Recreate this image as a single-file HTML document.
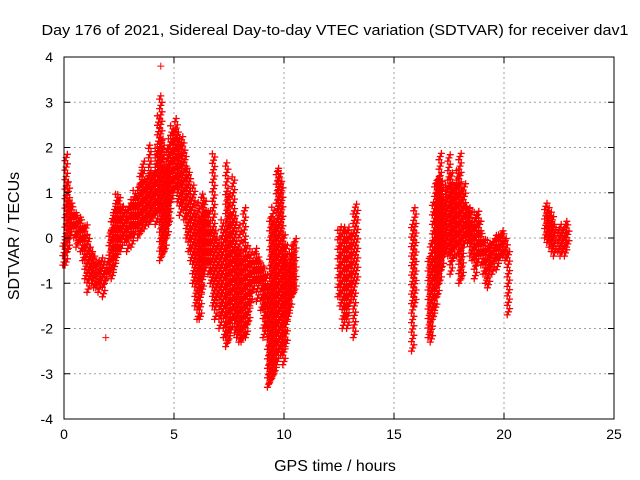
<!DOCTYPE html>
<html><head><meta charset="utf-8"><style>
body{margin:0;background:#fff}
svg{display:block;font-family:"Liberation Sans",sans-serif}
</style></head><body>
<svg id="c" width="640" height="480">
<rect width="640" height="480" fill="#fff"/>
<text x="335" y="35" font-size="15" text-anchor="middle" textLength="587" lengthAdjust="spacingAndGlyphs">Day 176 of 2021, Sidereal Day-to-day VTEC variation (SDTVAR) for receiver dav1</text>
<g id="grid"></g><g id="marks"></g><g id="axes"></g>
<text x="335" y="471" font-size="16" text-anchor="middle">GPS time / hours</text>
<text transform="translate(19,236) rotate(-90)" font-size="16" text-anchor="middle">SDTVAR / TECUs</text>
</svg>
<script>
const xTicks=[0,5,10,15,20,25];
const yTicks=[-4,-3,-2,-1,0,1,2,3,4];
const times=[0.0,0.1,0.2,0.3,0.4,0.5,0.6,0.7,0.8,0.9,1.0,1.1,1.2,1.3,1.4,1.5,1.6,1.7,1.8,1.9,2.0,2.1,2.2,2.3,2.4,2.5,2.6,2.7,2.8,2.9,3.0,3.1,3.2,3.3,3.4,3.5,3.6,3.7,3.8,3.9,4.0,4.1,4.2,4.3,4.4,4.5,4.6,4.7,4.8,4.9,5.0,5.1,5.2,5.3,5.4,5.5,5.6,5.7,5.8,5.9,6.0,6.1,6.2,6.3,6.4,6.5,6.6,6.7,6.8,6.9,7.0,7.1,7.2,7.3,7.4,7.5,7.6,7.7,7.8,7.9,8.0,8.1,8.2,8.3,8.4,8.5,8.6,8.7,8.8,8.9,9.0,9.1,9.2,9.3,9.4,9.5,9.6,9.7,9.8,9.9,10.0,10.1,10.2,10.3,10.4,10.5,
12.5,12.6,12.7,12.8,12.9,13.0,13.1,13.2,13.3,15.85,15.95,
16.6,16.7,16.8,16.9,17.0,17.1,17.2,17.3,17.4,17.5,17.6,17.7,17.8,17.9,18.0,18.1,18.2,18.3,18.4,18.5,18.6,18.7,18.8,18.9,19.0,19.1,19.2,19.3,19.4,19.5,19.6,19.7,19.8,19.9,20.0,20.1,20.2,
21.9,22.0,22.1,22.2,22.3,22.5,22.6,22.7,22.8,22.9];
const lows=[-0.6,-0.6,-0.3,0.0,0.2,0.0,-0.2,-0.1,-0.3,-0.5,-0.9,-1.2,-0.9,-1.0,-1.1,-1.1,-1.2,-1.0,-1.3,-1.0,-0.8,-0.8,-0.9,-0.7,-0.5,-0.3,-0.3,0.0,-0.1,-0.3,0.0,-0.2,0.0,0.2,0.0,0.1,0.3,0.2,0.4,0.3,0.4,0.5,0.3,0.6,-0.5,-0.4,-0.3,0.0,0.3,0.8,1.0,1.1,0.8,0.5,0.7,0.4,0.0,-0.3,-0.5,-1.0,-1.5,-1.8,-1.8,-1.2,-0.8,-0.6,-0.8,-1.0,-1.5,-1.8,-1.3,-2.0,-1.7,-2.2,-2.4,-2.3,-2.1,-1.8,-2.1,-2.2,-2.3,-2.3,-2.2,-2.2,-1.9,-1.5,-1.2,-1.0,-1.4,-1.0,-1.6,-2.2,-2.0,-3.3,-3.2,-3.1,-3.0,-2.8,-2.5,-2.6,-2.8,-2.4,-1.8,-1.6,-1.3,-1.2,
-1.3,-1.5,-2.0,-1.8,-2.0,-1.5,-1.3,-2.2,-1.0,-2.5,-1.5,
-2.2,-2.3,-1.8,-1.6,-1.3,-1.0,-0.7,-0.4,-0.3,-0.4,-0.8,-0.5,-0.2,-0.4,-1.0,-0.9,-0.2,0.0,-0.1,-0.4,-0.5,-0.9,-0.6,-0.4,-0.6,-0.8,-1.0,-1.1,-0.7,-0.8,-0.5,-0.7,-0.5,-0.4,-0.4,-0.5,-1.7,
0.0,-0.1,-0.2,-0.3,-0.4,-0.3,-0.4,-0.3,-0.4,-0.2];
const highs=[0.0,1.9,1.3,0.9,0.7,0.6,0.5,0.5,0.4,0.3,0.3,0.1,-0.2,-0.3,-0.4,-0.5,-0.5,-0.4,-0.5,-0.6,-0.4,0.2,0.5,0.7,1.0,1.0,0.8,0.7,0.6,0.7,0.8,0.9,1.1,0.9,1.2,1.5,1.7,1.3,1.4,2.1,1.5,1.5,2.0,2.7,3.2,2.2,1.6,2.0,2.2,2.5,2.4,2.7,2.4,2.2,2.3,2.0,1.6,1.5,1.0,1.2,0.5,0.8,0.5,1.0,0.9,0.6,0.6,0.3,1.9,0.2,0.0,-0.1,0.4,0.2,1.7,1.0,0.5,1.4,0.5,-0.2,0.3,-0.4,0.7,-0.1,-0.3,-0.2,-0.5,-0.2,-0.3,-0.5,-0.5,-0.6,-0.8,-1.0,0.5,0.7,0.4,1.6,1.5,1.3,0.1,-0.1,-0.5,-0.3,-0.1,0.0,
0.2,0.3,0.3,0.2,0.3,0.2,0.1,0.6,0.8,0.3,0.7,
-0.4,0.0,0.8,1.3,1.4,1.9,1.3,0.9,1.2,1.9,1.5,1.2,1.2,1.5,1.9,1.1,1.2,0.7,0.7,0.7,0.4,0.6,0.6,0.5,0.1,0.0,-0.1,0.0,-0.1,-0.1,0.1,0.1,0.1,0.2,0.1,0.0,-0.3,
0.8,0.7,0.6,0.5,0.3,0.2,0.3,0.2,0.4,0.3];
const outT=[4.4,1.9,10.0];
const outV=[3.8,-2.2,-0.5];
const L=64,R=614,T=57,B=419;
const sx=t=>L+(t-0)/(25-0)*(R-L);
const sy=v=>T+(4-v)/8*(B-T);
const NS='http://www.w3.org/2000/svg';
const mk=(tag,a)=>{const e=document.createElementNS(NS,tag);for(const k in a)e.setAttribute(k,a[k]);return e;};
const grid=document.getElementById('grid'),axes=document.getElementById('axes'),marks=document.getElementById('marks');
xTicks.forEach(t=>{const x=sx(t);
 if(t>0&&t<25){const g=mk('line',{x1:x,x2:x,y1:T,y2:B,stroke:'#a0a0a0','stroke-dasharray':'2,3'});
 
 grid.appendChild(g);}
 const tk=mk('path',{d:`M${x},${B}v-6M${x},${T}v6`,stroke:'#000'});
 
 axes.appendChild(tk);
 const l=mk('text',{x:x,y:B+20,'font-size':14,'text-anchor':'middle'});l.textContent=t;
 
 axes.appendChild(l);});
yTicks.forEach(v=>{const y=sy(v);
 if(v>-4&&v<4){const g=mk('line',{x1:L,x2:R,y1:y,y2:y,stroke:'#a0a0a0','stroke-dasharray':'2,3'});
 
 grid.appendChild(g);}
 const tk=mk('path',{d:`M${L},${y}h6M${R},${y}h-6`,stroke:'#000'});
 
 axes.appendChild(tk);
 const l=mk('text',{x:L-11,y:y+5,'font-size':14,'text-anchor':'end'});l.textContent=v;
 
 axes.appendChild(l);});
const fr=mk('rect',{x:L,y:T,width:R-L,height:B-T,fill:'none',stroke:'#000'});

axes.appendChild(fr);
const plus=(x,y)=>`M${(x-3.5).toFixed(1)},${y.toFixed(1)}h7M${x.toFixed(1)},${(y-3.5).toFixed(1)}v7`;
times.forEach((t,i)=>{let d='';const x=sx(t);let k=0;
 for(let v=lows[i];v<=highs[i]+1e-6;v+=0.07){d+=plus(x+((k%3)-1)*1.2,sy(v));k++;}
 const p=mk('path',{d:d,stroke:'#f00','stroke-width':1.3,fill:'none'});
 
 marks.appendChild(p);});
outT.forEach((t,i)=>{const p=mk('path',{d:plus(sx(t),sy(outV[i])),stroke:'#f00',fill:'none'});
 
 marks.appendChild(p);});
</script>
</body></html>
